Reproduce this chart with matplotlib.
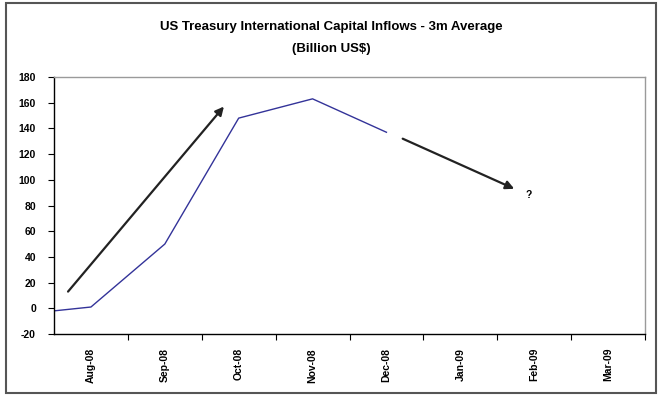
import matplotlib
matplotlib.use("Agg")
import matplotlib.pyplot as plt
from matplotlib.patches import Rectangle

# Axis categories (labels shown) and the 3m-average series
axis_months = ["Aug-08", "Sep-08", "Oct-08", "Nov-08", "Dec-08", "Jan-09", "Feb-09", "Mar-09"]
series_months = ["Jul-08", "Aug-08", "Sep-08", "Oct-08", "Nov-08", "Dec-08"]
inflows = [-5, 1, 50, 148, 163, 137]

# Trend arrows (start, end) in data coordinates and the question mark
up_arrow = ((-0.31, 13), (1.80, 157))
down_arrow = ((4.22, 132), (5.73, 93))
question_pos = (5.92, 88)
yticks = list(range(-20, 181, 20))

plt.rcParams["font.family"] = ["Liberation Sans", "DejaVu Sans"]

fig = plt.figure(figsize=(6.62, 3.96), dpi=100)
fig.patches.append(Rectangle((6 / 662, 3 / 396), 650 / 662, 390 / 396,
                             transform=fig.transFigure, fill=False,
                             edgecolor="#555555", linewidth=1.5))

ax = fig.add_axes([54 / 662, 62 / 396, 591 / 662, 257 / 396])

x_pos = [axis_months.index(m) if m in axis_months else axis_months.index("Aug-08") - 1
         for m in series_months]
ax.plot(x_pos, inflows, color="#333399", linewidth=1.0, clip_on=True)

ax.set_xlim(-0.5, len(axis_months) - 0.5)
ax.set_ylim(-20, 180)

ax.set_yticks(yticks)
ax.set_yticklabels([str(v) for v in yticks], fontsize=7.5, fontweight="bold")
ax.tick_params(axis="y", direction="out", length=4, width=0.8, pad=9)

ax.set_xticks([i + 0.5 for i in range(len(axis_months))])
ax.set_xticklabels([])
ax.tick_params(axis="x", which="major", direction="out", length=4, width=0.8)
ax.set_xticks(range(len(axis_months)), minor=True)
ax.set_xticklabels(axis_months, minor=True, rotation=90, fontsize=7.5, fontweight="bold")
ax.tick_params(axis="x", which="minor", length=0, pad=10)

for side in ("left", "bottom"):
    ax.spines[side].set_color("black")
    ax.spines[side].set_linewidth(1.0)
for side in ("top", "right"):
    ax.spines[side].set_color("#9a9a9a")
    ax.spines[side].set_linewidth(1.0)

arrow_style = dict(arrowstyle="-|>,head_length=0.5,head_width=0.25",
                   color="#222222", linewidth=1.6, shrinkA=0, shrinkB=0)
ax.annotate("", xy=up_arrow[1], xytext=up_arrow[0], arrowprops=arrow_style)
ax.annotate("", xy=down_arrow[1], xytext=down_arrow[0], arrowprops=arrow_style)
ax.text(*question_pos, "?", fontsize=7.5, fontweight="bold", ha="center", va="center")

fig.text(0.5, 1 - 27 / 396, "US Treasury International Capital Inflows - 3m Average",
         ha="center", va="center", fontsize=9.5, fontweight="bold")
fig.text(0.5, 1 - 49 / 396, "(Billion US$)", ha="center", va="center",
         fontsize=9.5, fontweight="bold")

fig.savefig("out.png", dpi=100)
